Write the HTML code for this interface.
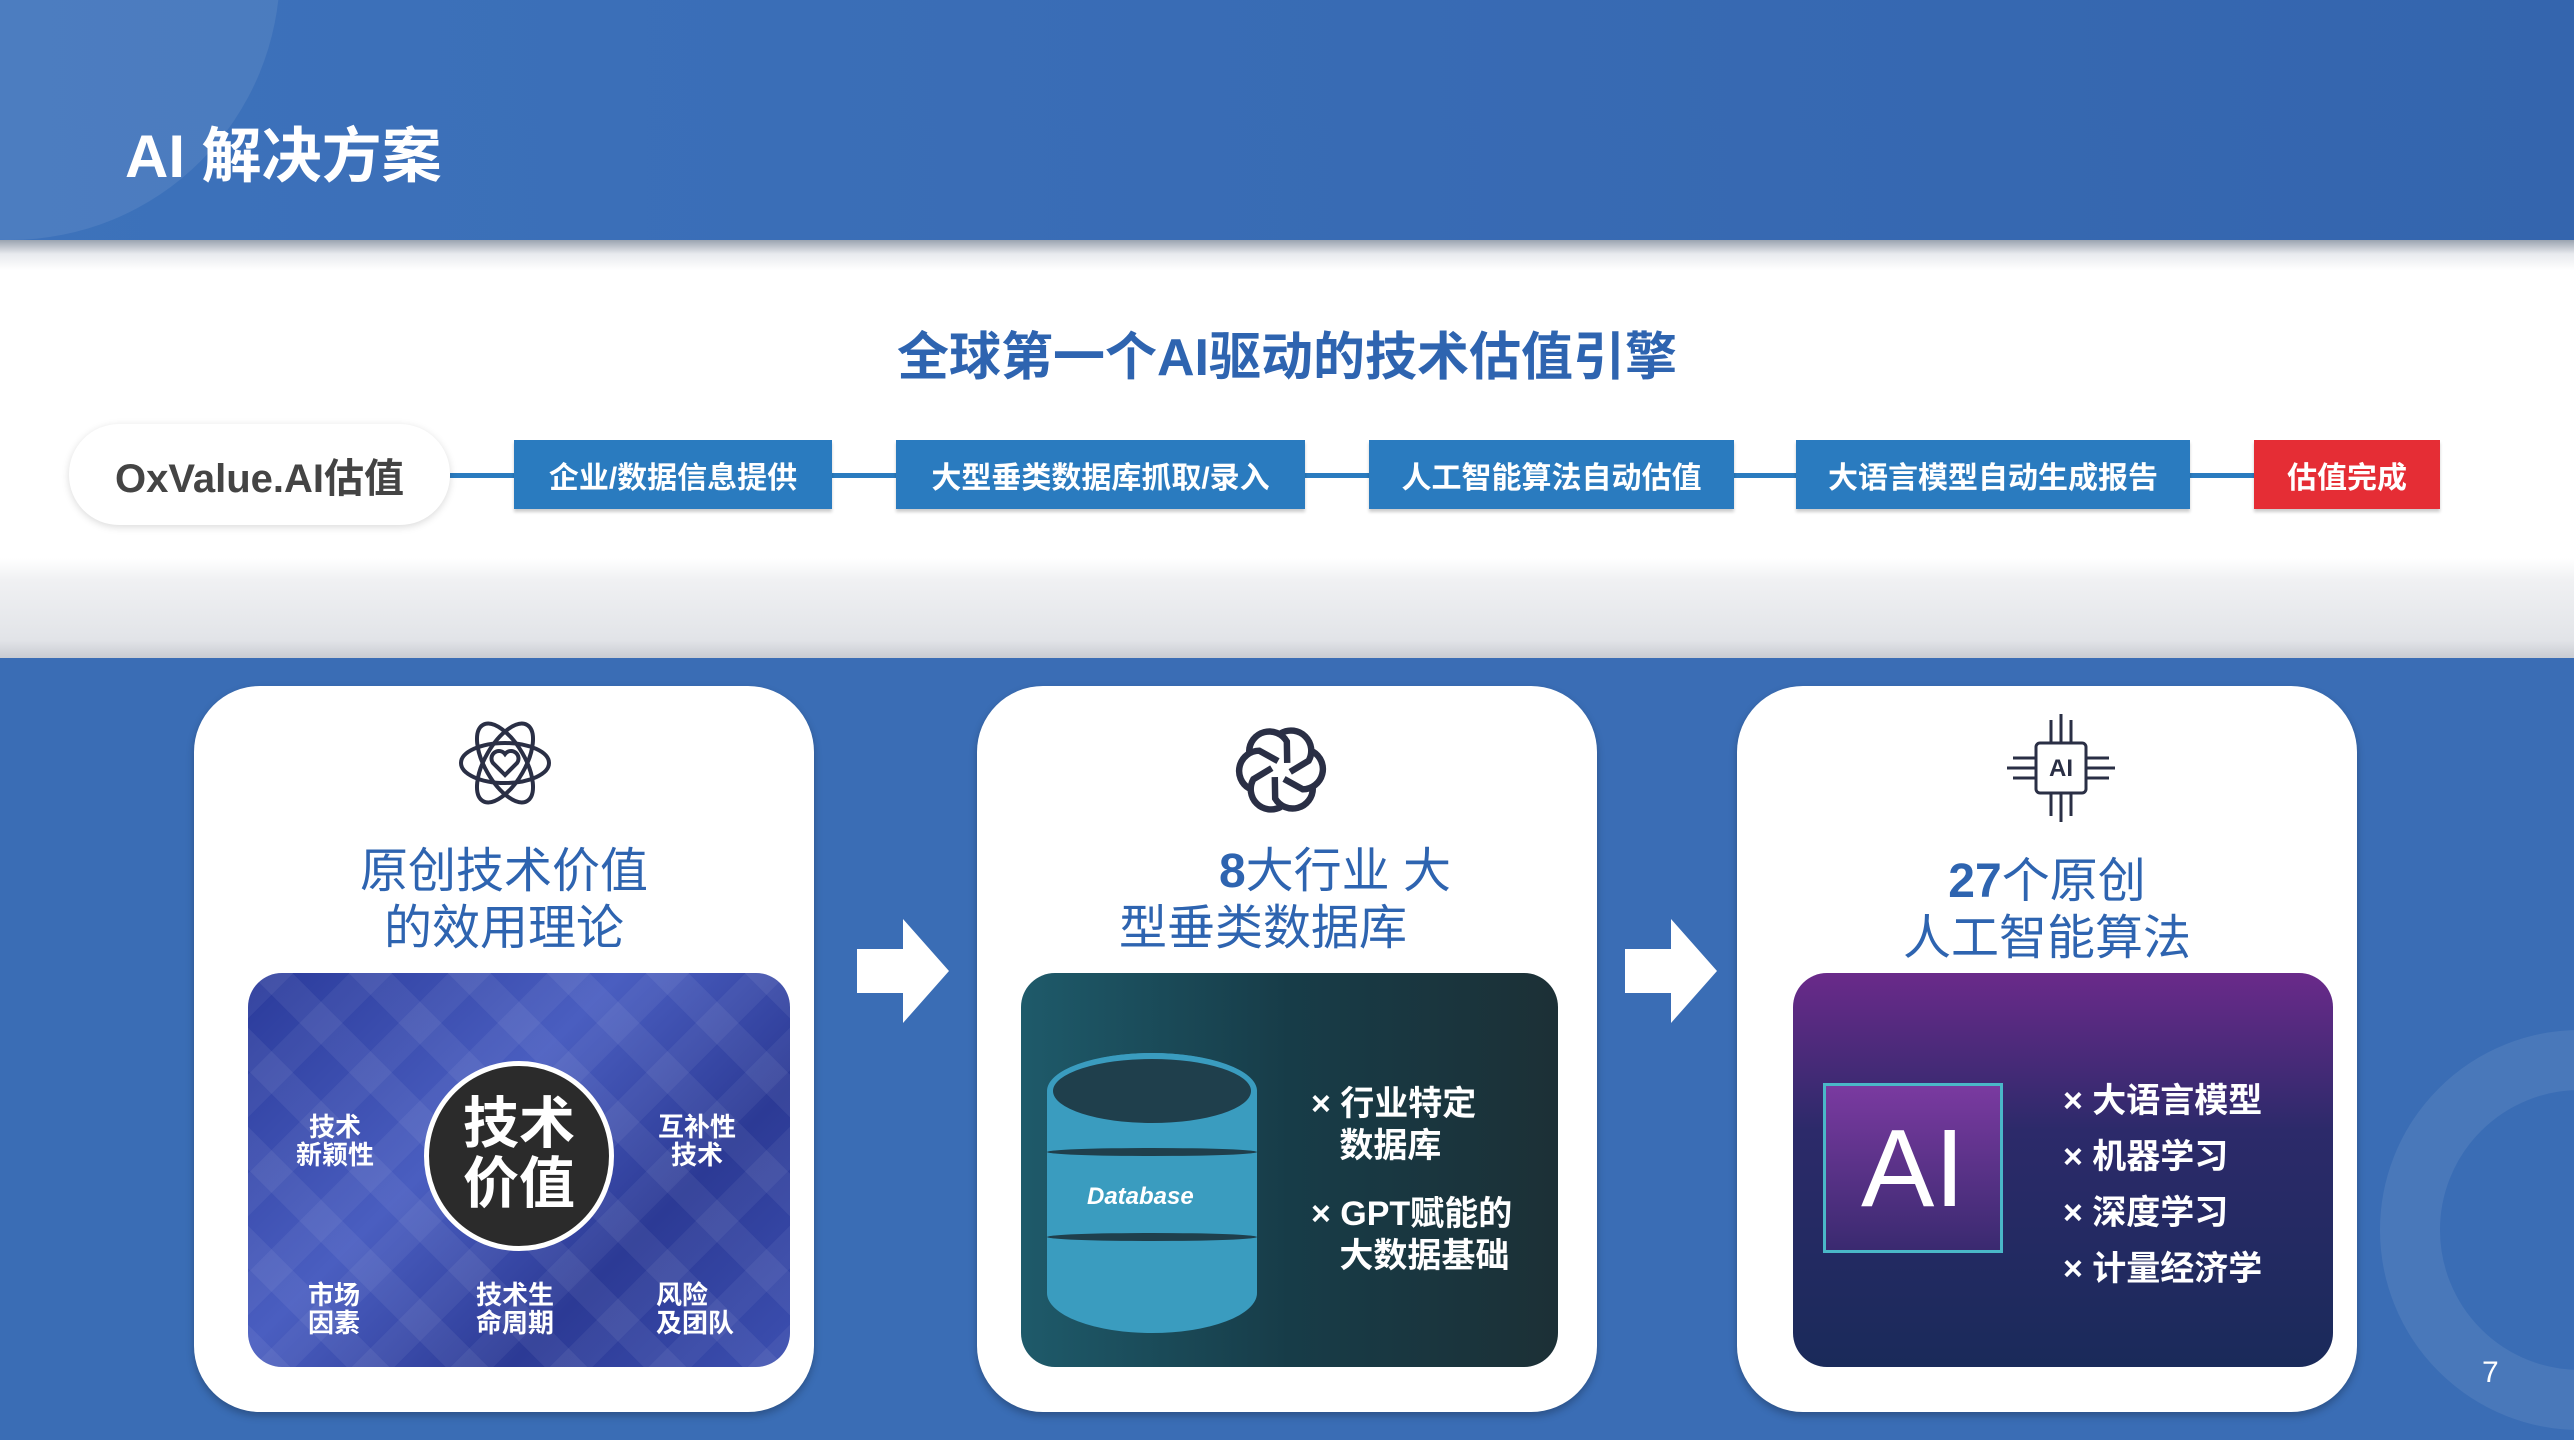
<!DOCTYPE html>
<html><head><meta charset="utf-8"><style>
*{margin:0;padding:0;box-sizing:border-box}
body{width:2574px;height:1440px;position:relative;overflow:hidden;background:#3a6db5;font-family:"Liberation Sans","Noto Sans CJK SC",sans-serif}
.a{position:absolute}
.hdr{left:0;top:0;width:2574px;height:240px;background:linear-gradient(90deg,#3d72bb,#3465ae)}
.white{left:0;top:240px;width:2574px;height:418px;background:linear-gradient(#9aa3b0 0,#e8eaee 14px,#fff 30px,#fff 318px,#f0f1f3 340px,#e2e4e8 400px,#c9ccd2 418px)}
.box{top:440px;height:69px;background:#2a7bbf;color:#fff;font-weight:bold;font-size:30px;display:flex;align-items:center;justify-content:center;box-shadow:0 3px 3px rgba(0,0,0,.2)}
.card{top:686px;height:726px;width:620px;background:#fff;border-radius:66px;box-shadow:0 4px 8px rgba(0,0,0,.25)}
.ct{color:#2e64b0;font-size:48px;text-align:center;line-height:57px;width:620px}
.img{top:973px;height:394px;border-radius:34px;overflow:hidden}
.w{color:#fff;font-weight:bold}
</style></head><body>
<div class="a hdr"></div>
<div class="a" style="left:-260px;top:-300px;width:540px;height:540px;border-radius:50%;background:rgba(255,255,255,.08)"></div>
<div class="a" style="left:125px;top:108px;color:#fff;font-size:60px;font-weight:bold;">AI 解决方案</div>
<div class="a white"></div>
<div class="a" style="left:0;top:315px;width:2574px;text-align:center;color:#2e64b0;font-size:52px;font-weight:bold;">全球第一个AI驱动的技术估值引擎</div>
<div class="a" style="left:450px;top:473px;width:1804px;height:5px;background:#2a7bbf"></div>
<div class="a" style="left:69px;top:424px;width:381px;height:101px;border-radius:50px;background:#fff;box-shadow:0 2px 8px rgba(0,0,0,.15);display:flex;align-items:center;justify-content:center;font-size:40px;font-weight:bold;color:#444">OxValue.AI估值</div>
<div class="a box" style="left:514px;width:318px">企业/数据信息提供</div>
<div class="a box" style="left:896px;width:409px">大型垂类数据库抓取/录入</div>
<div class="a box" style="left:1369px;width:365px">人工智能算法自动估值</div>
<div class="a box" style="left:1796px;width:394px">大语言模型自动生成报告</div>
<div class="a box" style="left:2254px;width:186px;background:#e52d35">估值完成</div>

<div class="a" style="left:2380px;top:1030px;width:400px;height:400px;border-radius:50%;border:60px solid rgba(255,255,255,.08)"></div>

<div class="a card" style="left:194px"></div>
<div class="a card" style="left:977px"></div>
<div class="a card" style="left:1737px"></div>

<svg class="a" style="left:455px;top:713px" width="100" height="100" viewBox="0 0 100 100" fill="none" stroke="#2a2f45" stroke-width="4"><ellipse cx="50" cy="50" rx="44" ry="20"/><ellipse cx="50" cy="50" rx="44" ry="20" transform="rotate(60 50 50)"/><ellipse cx="50" cy="50" rx="44" ry="20" transform="rotate(-60 50 50)"/><path d="M50 62 L38 50 A7 7 0 0 1 50 41 A7 7 0 0 1 62 50 Z"/></svg>
<svg class="a" style="left:1235px;top:722px" width="92" height="96" viewBox="0 0 100 100" fill="none" stroke="#2a2f45" stroke-width="7"><g><path d="M50 10 A22 22 0 0 1 80 40 L60 52"/><path d="M50 10 A22 22 0 0 1 80 40 L60 52" transform="rotate(60 50 50)"/><path d="M50 10 A22 22 0 0 1 80 40 L60 52" transform="rotate(120 50 50)"/><path d="M50 10 A22 22 0 0 1 80 40 L60 52" transform="rotate(180 50 50)"/><path d="M50 10 A22 22 0 0 1 80 40 L60 52" transform="rotate(240 50 50)"/><path d="M50 10 A22 22 0 0 1 80 40 L60 52" transform="rotate(300 50 50)"/></g></svg>
<svg class="a" style="left:2003px;top:710px" width="116" height="116" viewBox="0 0 116 116" fill="none" stroke="#2a2f45" stroke-width="3"><rect x="33" y="33" width="50" height="50" rx="4"/><text x="58" y="66" font-family="Liberation Sans" font-size="24" font-weight="bold" fill="#2a2f45" stroke="none" text-anchor="middle">AI</text><path d="M48 33V10M58 33V4M68 33V10M48 83V106M58 83V112M68 83V106M33 48H10M33 58H4M33 68H10M83 48H106M83 58H112M83 68H106"/></svg>

<div class="a ct" style="left:194px;top:843px">原创技术价值<br>的效用理论</div>
<div class="a ct" style="left:977px;top:843px"><span style="position:relative;left:48px"><b>8</b>大行业 大</span><br><span style="position:relative;left:-24px">型垂类数据库</span></div>
<div class="a ct" style="left:1737px;top:853px"><b>27</b>个原创<br>人工智能算法</div>

<div class="a img" style="left:248px;width:542px;background:linear-gradient(135deg,#2a3a9a,#4a5ec0 40%,#2c3a95 70%,#3c4fb0)">
 <div class="a" style="left:0;top:0;width:542px;height:394px;background:repeating-linear-gradient(45deg,rgba(255,255,255,.06) 0 30px,transparent 30px 70px),repeating-linear-gradient(-45deg,rgba(255,255,255,.05) 0 30px,transparent 30px 70px)"></div>
 <div class="a" style="left:176px;top:88px;width:190px;height:190px;border-radius:50%;background:#2b2b2b;border:5px solid #fff;color:#fff;font-weight:bold;font-size:56px;line-height:60px;text-align:center;padding-top:28px">技术<br>价值</div>
 <div class="a w" style="left:48px;top:140px;font-size:26px;line-height:28px;text-align:center">技术<br>新颖性</div>
 <div class="a w" style="left:410px;top:140px;font-size:26px;line-height:28px;text-align:center">互补性<br>技术</div>
 <div class="a w" style="left:60px;top:308px;font-size:26px;line-height:28px">市场<br>因素</div>
 <div class="a w" style="left:228px;top:308px;font-size:26px;line-height:28px">技术生<br>命周期</div>
 <div class="a w" style="left:408px;top:308px;font-size:26px;line-height:28px">风险<br>及团队</div>
</div>
<div class="a img" style="left:1021px;width:537px;background:linear-gradient(90deg,#1e5a6a,#173c48 50%,#1c3036)">
 <div class="a" style="left:26px;top:80px;width:210px;height:280px;">
  <div class="a" style="left:0;top:0;width:210px;height:280px;background:#3a9cbf;border-radius:105px/40px"></div>
  <div class="a" style="left:0;top:0;width:210px;height:76px;background:#1f3f4c;border:6px solid #3a9cbf;border-radius:50%"></div>
  <div class="a" style="left:0;top:95px;width:210px;height:8px;background:#1f3f4c;border-radius:50%"></div>
  <div class="a" style="left:0;top:180px;width:210px;height:8px;background:#1f3f4c;border-radius:50%"></div>
  <div class="a" style="left:40px;top:130px;color:#fff;font-style:italic;font-weight:bold;font-size:24px">Database</div>
 </div>
 <div class="a w" style="left:290px;top:110px;font-size:34px;line-height:42px">× 行业特定<br>&nbsp;&nbsp;&nbsp;数据库</div>
 <div class="a w" style="left:290px;top:220px;font-size:34px;line-height:42px">× GPT赋能的<br>&nbsp;&nbsp;&nbsp;大数据基础</div>
</div>
<div class="a img" style="left:1793px;width:540px;background:linear-gradient(#6a2a8a,#2c2a6a 40%,#1a2a5a)">
 <div class="a" style="left:30px;top:110px;width:180px;height:170px;border:3px solid #4ab8c8;background:linear-gradient(#7a3aa0,#3a2a70);color:#fff;font-size:110px;text-align:center;line-height:165px">AI</div>
 <div class="a w" style="left:270px;top:100px;font-size:34px;line-height:56px">× 大语言模型<br>× 机器学习<br>× 深度学习<br>× 计量经济学</div>
</div>

<svg class="a" style="left:857px;top:919px" width="92" height="104" viewBox="0 0 92 104"><path d="M0 30H46V0L92 52L46 104V74H0Z" fill="#fff"/></svg>
<svg class="a" style="left:1625px;top:919px" width="92" height="104" viewBox="0 0 92 104"><path d="M0 30H46V0L92 52L46 104V74H0Z" fill="#fff"/></svg>

<div class="a" style="left:2482px;top:1356px;color:#fff;font-size:30px">7</div>
</body></html>
